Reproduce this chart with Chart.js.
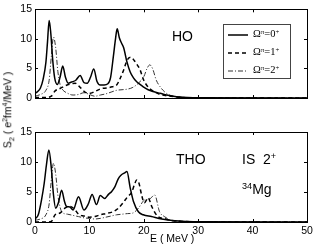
<!DOCTYPE html>
<html>
<head>
<meta charset="utf-8">
<script src="https://cdn.jsdelivr.net/npm/chart.js@4/dist/chart.umd.min.js"></script>
<style>
  body { margin: 0; background: #fff; }
  #wrap { position: relative; width: 316px; height: 247px; font-family: "Liberation Sans", Arial, sans-serif; color: #000; }
  canvas { position: absolute; left: 0; }
  .txt { position: absolute; white-space: nowrap; line-height: 1; }
  .txt sup { font-size: 65%; vertical-align: 0; position: relative; top: -0.55em; }
  .legend { position: absolute; left: 223px; top: 24px; width: 66px; height: 53px; border: 1px solid #444; background: #fff; }
  .row { position: absolute; left: 0; height: 14px; }
  .row svg { position: absolute; left: 4px; top: 4px; }
  .row span { position: absolute; left: 29px; top: 0; font-family: "Liberation Serif", "Times New Roman", serif; font-size: 10.5px; white-space: nowrap; }
  .row span sup { font-size: 65%; position: relative; top: -0.5em; vertical-align: 0; }
</style>
</head>
<body>
<div id="wrap">
  <canvas id="top" width="316" height="116" style="top:0"></canvas>
  <canvas id="bottom" width="316" height="131" style="top:116px"></canvas>

  <div class="txt" style="left:172px; top:29px; font-size:14px;">HO</div>
  <div class="txt" style="left:176px; top:152px; font-size:14px;">THO</div>
  <div class="txt" style="left:242px; top:152px; font-size:14px;">IS&nbsp;&nbsp;2<sup>+</sup></div>
  <div class="txt" style="left:242px; top:182px; font-size:14px;"><sup>34</sup>Mg</div>

  <div class="txt" style="left:150px; top:233px; font-size:10.5px;">E ( MeV )</div>
  <div class="txt" id="ylab" style="left:9px; top:110px; font-size:10.5px; transform: translate(-50%,-50%) rotate(-90deg);">S<sub style="font-size:70%">2</sub> ( e<sup>2</sup>fm<sup>4</sup>/MeV )</div>

  <div class="legend">
    <div class="row" style="top:3px;">
      <svg width="22" height="6"><line x1="0" y1="3" x2="20" y2="3" stroke="#000" stroke-width="1.5"/></svg>
      <span>Ω<sup>π</sup>=0<sup>+</sup></span>
    </div>
    <div class="row" style="top:21px;">
      <svg width="22" height="6"><line x1="0" y1="3" x2="20" y2="3" stroke="#000" stroke-width="1.5" stroke-dasharray="4,3"/></svg>
      <span>Ω<sup>π</sup>=1<sup>+</sup></span>
    </div>
    <div class="row" style="top:39px;">
      <svg width="22" height="6"><line x1="0" y1="3" x2="20" y2="3" stroke="#333" stroke-width="1" stroke-dasharray="5,2,1,2"/></svg>
      <span>Ω<sup>π</sup>=2<sup>+</sup></span>
    </div>
  </div>
</div>

<script>
// axis ticks
const xTicks = [0, 10, 20, 30, 40, 50];
const yTicks = [0, 5, 10, 15];

// HO, Omega = 0+
const ho0E = [0, 0.5, 1, 1.5, 2, 2.3, 2.6, 2.9, 3.25, 3.6, 4.1, 4.6, 5.1, 5.6, 6.1, 6.7, 7.5, 8.3, 9.0, 9.6, 10.2, 10.8, 11.4, 12, 12.7, 13.4, 13.9, 14.4, 14.8, 15.1, 15.5, 15.9, 16.3, 16.9, 17.5, 18.1, 18.7, 19.3, 19.9, 20.8, 21.7, 23, 24.2, 26, 28, 30, 50];
const ho0S = [0.8, 1.1, 1.7, 3.2, 6.0, 9.5, 13.1, 11, 6.5, 3.5, 2.3, 3.5, 5.4, 3.5, 2.5, 2.7, 3.0, 3.8, 2.6, 2.5, 3.5, 4.9, 2.8, 2.2, 2.2, 2.4, 3.5, 7.0, 10, 11.7, 10.2, 9.3, 8.5, 6.1, 4.4, 3.4, 2.75, 2.3, 1.9, 1.4, 1.1, 0.8, 0.5, 0.2, 0.08, 0.03, 0];

// HO, Omega = 1+
const ho1E = [0, 1, 2, 3, 3.7, 4.6, 5.9, 7.4, 8.3, 9.2, 10.2, 11.2, 12.2, 13.2, 14.2, 15, 15.6, 16.2, 17, 17.6, 18.2, 18.8, 19.3, 19.9, 20.5, 21.5, 23, 25, 27, 30, 50];
const ho1S = [0.1, 0.1, 0.1, 0.3, 1.2, 1.6, 2.2, 2.5, 1.8, 1.0, 0.8, 1.2, 1.6, 1.7, 1.9, 2.2, 3.2, 4.5, 6.5, 6.9, 6.4, 5.6, 4.8, 3.2, 2.2, 1.3, 0.6, 0.3, 0.1, 0.03, 0];

// HO, Omega = 2+
const ho2E = [0, 1, 2, 2.6, 3.0, 3.4, 3.8, 4.2, 4.6, 5.0, 6, 7, 8, 9, 10, 11, 12, 13, 14, 15, 16, 17, 18, 19, 20, 20.6, 21.1, 21.6, 22.3, 23, 24, 25, 27, 30, 50];
const ho2S = [0.3, 0.6, 1.3, 3, 7, 10.3, 8.5, 4.5, 2.3, 1.5, 0.8, 0.5, 0.6, 0.9, 0.6, 0.3, 0.5, 0.7, 1.0, 1.3, 1.4, 1.5, 1.8, 2.5, 3.6, 5.0, 5.6, 5.0, 3.0, 1.9, 0.9, 0.4, 0.1, 0.03, 0];

// THO, Omega = 0+
const tho0E = [0, 0.6, 1.2, 1.7, 2.1, 2.55, 3.0, 3.4, 3.8, 4.3, 4.9, 5.4, 5.8, 6.4, 7.0, 8.0, 9.0, 9.8, 10.5, 11.3, 12.0, 12.8, 13.5, 14.1, 14.7, 15.3, 15.8, 16.5, 16.9, 17.5, 18.1, 19.0, 19.9, 21.4, 23.3, 25.7, 28, 30, 50];
const tho0S = [0.5, 1.2, 3.7, 6.5, 9.5, 12, 9, 4.5, 2.3, 3.2, 5.3, 3.5, 2.6, 2.5, 2.0, 4.2, 2.0, 3.0, 4.6, 2.9, 4.4, 3.9, 4.6, 5.1, 5.9, 7.2, 7.8, 8.2, 8.4, 5.7, 3.4, 1.7, 1.2, 0.9, 0.5, 0.2, 0.08, 0.03, 0];

// THO, Omega = 1+
const tho1E = [0, 1, 2, 3, 3.7, 4.6, 5.5, 6.4, 7.2, 8, 9, 10, 11, 12, 13, 14.3, 15.2, 16.2, 17, 17.8, 18.3, 18.7, 19.1, 19.6, 20.1, 20.8, 21.5, 22.5, 24, 25.5, 27, 30, 50];
const tho1S = [0, 0, 0, 0.1, 1.2, 1.5, 2.3, 2.6, 2.2, 1.3, 1.0, 0.8, 0.9, 1.2, 1.4, 1.7, 2.2, 3.2, 4.2, 5.0, 6.3, 7.0, 6.5, 4.5, 3.2, 4.0, 2.5, 1.0, 0.5, 0.2, 0.1, 0.03, 0];

// THO, Omega = 2+
const tho2E = [0, 1, 2, 2.6, 3.0, 3.4, 3.8, 4.2, 4.6, 5.0, 6, 7, 8, 9, 10, 11, 12, 13, 14, 15, 16, 17, 18, 19, 20.2, 21, 22, 22.9, 23.8, 25, 27, 30, 50];
const tho2S = [0.3, 0.5, 1.2, 3, 7, 9.8, 8, 4.5, 2.5, 1.6, 1.3, 1.1, 0.9, 0.7, 0.6, 0.5, 0.6, 0.8, 1.0, 1.2, 1.3, 1.4, 1.5, 2.3, 3.7, 3.8, 4.5, 1.7, 0.9, 0.3, 0.1, 0.03, 0];

function pts(xs, ys) {
  return xs.map((x, i) => ({ x: x, y: ys[i] }));
}

function series(xs, ys, kind) {
  const ds = {
    data: pts(xs, ys),
    borderColor: '#000',
    borderWidth: 1.5,
    pointRadius: 0,
    fill: false,
    cubicInterpolationMode: 'monotone'
  };
  if (kind === 'dash') ds.borderDash = [4, 3];
  if (kind === 'dashdot') { ds.borderDash = [5, 2, 1, 2]; ds.borderWidth = 1; ds.borderColor = '#333'; }
  return ds;
}

// box around the plot with inward ticks, matlab style
const frame = {
  id: 'frame',
  afterDraw(chart) {
    const ctx = chart.ctx;
    const a = chart.chartArea;
    const xs = chart.scales.x, ys = chart.scales.y;
    ctx.save();
    ctx.strokeStyle = '#000';
    ctx.lineWidth = 1;
    ctx.strokeRect(Math.round(a.left) + 0.5, Math.round(a.top) + 0.5, Math.round(a.right - a.left), Math.round(a.bottom - a.top));
    ctx.beginPath();
    xTicks.forEach(v => {
      const px = Math.round(xs.getPixelForValue(v)) + 0.5;
      ctx.moveTo(px, a.bottom); ctx.lineTo(px, a.bottom - 3);
      ctx.moveTo(px, a.top); ctx.lineTo(px, a.top + 3);
    });
    yTicks.forEach(v => {
      const py = Math.round(ys.getPixelForValue(v)) + 0.5;
      ctx.moveTo(a.left, py); ctx.lineTo(a.left + 3, py);
      ctx.moveTo(a.right, py); ctx.lineTo(a.right - 3, py);
    });
    ctx.stroke();
    ctx.restore();
  }
};

function makeChart(id, sets, showX, padTop, xHeight) {
  return new Chart(document.getElementById(id), {
    type: 'line',
    data: { datasets: sets },
    plugins: [frame],
    options: {
      responsive: false,
      animation: false,
      layout: { padding: { top: padTop, right: 9, left: 0, bottom: 0 } },
      plugins: { legend: { display: false }, tooltip: { enabled: false } },
      scales: {
        x: {
          type: 'linear', min: 0, max: 50,
          grid: { display: false, drawTicks: false },
          border: { display: false },
          afterBuildTicks(s) { s.ticks = xTicks.map(v => ({ value: v })); },
          afterFit(s) { s.height = xHeight; },
          ticks: {
            display: showX, padding: 3, maxRotation: 0,
            color: '#000', font: { family: '"Liberation Sans", Arial, sans-serif', size: 10.5 }
          }
        },
        y: {
          min: 0, max: 15,
          grid: { display: false, drawTicks: false },
          border: { display: false },
          afterBuildTicks(s) { s.ticks = yTicks.map(v => ({ value: v })); },
          afterFit(s) { s.width = 35; },
          ticks: {
            padding: 3, color: '#000',
            font: { family: '"Liberation Sans", Arial, sans-serif', size: 10.5 }
          }
        }
      }
    }
  });
}

makeChart('top', [
  series(ho0E, ho0S, 'solid'),
  series(ho1E, ho1S, 'dash'),
  series(ho2E, ho2S, 'dashdot')
], false, 9, 18);

makeChart('bottom', [
  series(tho0E, tho0S, 'solid'),
  series(tho1E, tho1S, 'dash'),
  series(tho2E, tho2S, 'dashdot')
], true, 16, 25);
</script>
</body>
</html>
